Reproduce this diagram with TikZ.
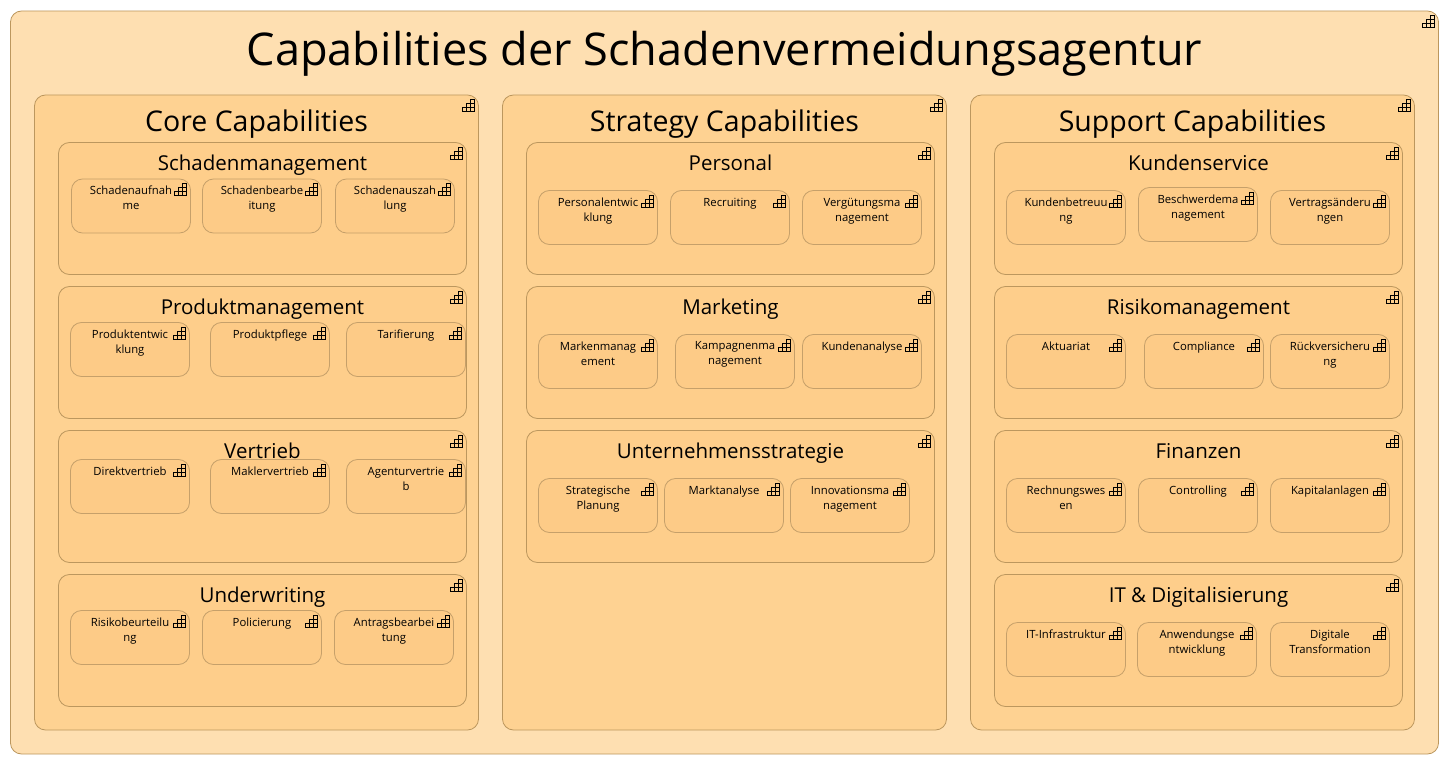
\documentclass[tikz,border=0pt]{standalone}
\usepackage{fontspec}
\setmainfont{Open Sans}
\usetikzlibrary{calc}
\definecolor{outerfill}{HTML}{FEDFB1}
\definecolor{colfill}{HTML}{FED292}
\definecolor{groupfill}{HTML}{FECE8B}
\definecolor{leaffill}{HTML}{FDCB87}
\definecolor{edgecol}{HTML}{BC975E}
\definecolor{leafedge}{HTML}{C6A06A}
\tikzset{
  x=1pt,y=-1pt,
  capbox/.style={draw=edgecol,line width=0.8pt,rounded corners=11pt,anchor=north west,inner sep=0pt,outer sep=0pt},
  outerbox/.style={capbox,fill=outerfill,minimum width=1428pt,minimum height=743pt},
  colbox/.style={capbox,fill=colfill,minimum width=444pt,minimum height=635pt},
  groupbox/.style={capbox,fill=groupfill,minimum width=408pt,minimum height=132pt},
  leafbox/.style={capbox,draw=leafedge,fill=leaffill,minimum width=119pt,minimum height=54pt},
  titletext/.style={anchor=base,inner sep=0pt,font=\fontsize{45.1}{50}\selectfont},
  coltext/.style={anchor=base,inner sep=0pt,font=\fontsize{28.5}{32}\selectfont},
  grouptext/.style={anchor=base,inner sep=0pt,font=\fontsize{20.5}{24}\selectfont},
  leaftext/.style={anchor=north,inner sep=0pt,align=center,font=\fontsize{11.3}{15}\selectfont},
  pics/capicon/.style={code={
    \draw[black,line width=0.7pt,line join=miter]
      (-12,12) rectangle (0,8)
      (-8,8) -- (-8,12) (-4,4) -- (-4,12)
      (-8,8) -- (-8,4) -- (0,4)
      (-4,4) -- (-4,0) -- (0,0) -- (0,8);
  }}
}
\newcommand{\capicon}[1]{\pic at ($(#1.north east)+(-4.2,4.5)$) {capicon};}
\newcommand{\leaf}[4]{%
  \node[leafbox] (#1) at (#2,#3) {};
  \node[leaftext] (#1t) at ($(#1.north)+(0,7.1)$) {#4};
  \capicon{#1}}
\newcommand{\group}[4]{%
  \node[groupbox] (#1) at (#2,#3) {};
  \node[grouptext] (#1t) at ($(#1.north)+(0,27.8)$) {#4};
  \capicon{#1}}
\newcommand{\capcol}[3]{%
  \node[colbox] (#1) at (#2,95) {};
  \node[coltext] (#1t) at ($(#1.north)+(0,36.5)$) {#3};
  \capicon{#1}}
\begin{document}
\begin{tikzpicture}
\useasboundingbox (0,0) rectangle (1449,765);
\node[outerbox] (root) at (10.5,11) {};
\node[titletext] (roott) at (724.5,65.5) {Capabilities der Schadenvermeidungsagentur};
\capicon{root}

\capcol{core}{34.5}{Core Capabilities}
\capcol{strat}{502.5}{Strategy Capabilities}
\capcol{supp}{970.5}{Support Capabilities}

% Core
\group{ga}{58.5}{142.5}{Schadenmanagement}
\leaf{a1}{71.5}{179}{Schadenaufnah\\me}
\leaf{a2}{202.5}{179}{Schadenbearbe\\itung}
\leaf{a3}{335.5}{179}{Schadenauszah\\lung}
\group{gb}{58.5}{286.5}{Produktmanagement}
\leaf{b1}{70.5}{322.5}{Produktentwic\\klung}
\leaf{b2}{210.5}{322.5}{Produktpflege}
\leaf{b3}{346.5}{322.5}{Tarifierung}
\group{gc}{58.5}{430.5}{Vertrieb}
\leaf{c1}{70.5}{459.5}{Direktvertrieb}
\leaf{c2}{210.5}{459.5}{Maklervertrieb}
\leaf{c3}{346.5}{459.5}{Agenturvertrie\\b}
\group{gd}{58.5}{574.5}{Underwriting}
\leaf{d1}{70.5}{610.5}{Risikobeurteilu\\ng}
\leaf{d2}{202.5}{610.5}{Policierung}
\leaf{d3}{334.5}{610.5}{Antragsbearbei\\tung}

% Strategy
\group{ge}{526.5}{142.5}{Personal}
\leaf{e1}{538.5}{190.5}{Personalentwic\\klung}
\leaf{e2}{670.5}{190.5}{Recruiting}
\leaf{e3}{802.5}{190.5}{Vergütungsma\\nagement}
\group{gf}{526.5}{286.5}{Marketing}
\leaf{f1}{538.5}{334.5}{Markenmanag\\ement}
\leaf{f2}{675.5}{334.5}{Kampagnenma\\nagement}
\leaf{f3}{802.5}{334.5}{Kundenanalyse}
\group{gg}{526.5}{430.5}{Unternehmensstrategie}
\leaf{g1}{538.5}{478.5}{Strategische\\Planung}
\leaf{g2}{664.5}{478.5}{Marktanalyse}
\leaf{g3}{790.5}{478.5}{Innovationsma\\nagement}

% Support
\group{gh}{994.5}{142.5}{Kundenservice}
\leaf{h1}{1006.5}{190.5}{Kundenbetreuu\\ng}
\leaf{h2}{1138.5}{187.5}{Beschwerdema\\nagement}
\leaf{h3}{1270.5}{190.5}{Vertragsänderu\\ngen}
\group{gi}{994.5}{286.5}{Risikomanagement}
\leaf{i1}{1006.5}{334.5}{Aktuariat}
\leaf{i2}{1144.5}{334.5}{Compliance}
\leaf{i3}{1270.5}{334.5}{Rückversicheru\\ng}
\group{gj}{994.5}{430.5}{Finanzen}
\leaf{j1}{1006.5}{478.5}{Rechnungswes\\en}
\leaf{j2}{1138.5}{478.5}{Controlling}
\leaf{j3}{1270.5}{478.5}{Kapitalanlagen}
\group{gk}{994.5}{574.5}{IT \& Digitalisierung}
\leaf{k1}{1006.5}{622.5}{IT-Infrastruktur}
\leaf{k2}{1137.5}{622.5}{Anwendungse\\ntwicklung}
\leaf{k3}{1270.5}{622.5}{Digitale\\Transformation}
\end{tikzpicture}
\end{document}
